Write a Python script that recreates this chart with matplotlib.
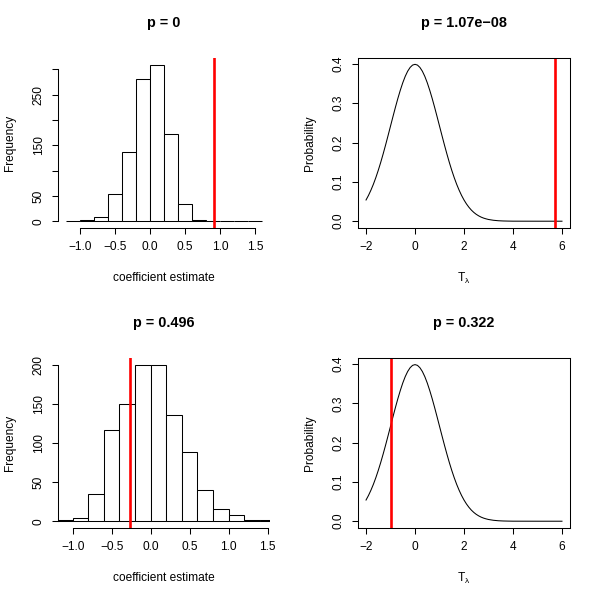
import matplotlib
matplotlib.use('Agg')
import matplotlib.pyplot as plt

plt.rcParams['font.family'] = ['Liberation Sans', 'DejaVu Sans']
plt.rcParams['mathtext.fontset'] = 'custom'
plt.rcParams['mathtext.rm'] = 'Liberation Sans'
plt.rcParams['axes.unicode_minus'] = True

# histogram bins (left edges, width 0.2) and counts
bin_edges = [-1.2, -1.0, -0.8, -0.6, -0.4, -0.2, 0.0, 0.2, 0.4, 0.6, 0.8, 1.0, 1.2, 1.4, 1.6]
counts_top = [0, 2, 9, 54, 136, 280, 309, 172, 35, 3, 0, 0, 0, 0]
counts_bottom = [2, 4, 35, 117, 150, 200, 201, 136, 89, 40, 16, 8, 1, 1]

# observed values (red lines)
obs_top_hist = 0.92
obs_bottom_hist = -0.265
obs_top_t = 5.72
obs_bottom_t = -0.99

titles = ['p = 0', 'p = 1.07e\u221208', 'p = 0.496', 'p = 0.322']

# density curve
t_x = [-2.0, -1.9, -1.8, -1.7, -1.6, -1.5, -1.4, -1.3, -1.2, -1.1,
       -1.0, -0.9, -0.8, -0.7, -0.6, -0.5, -0.4, -0.3, -0.2, -0.1,
       0.0, 0.1, 0.2, 0.3, 0.4, 0.5, 0.6, 0.7, 0.8, 0.9,
       1.0, 1.1, 1.2, 1.3, 1.4, 1.5, 1.6, 1.7, 1.8, 1.9,
       2.0, 2.1, 2.2, 2.3, 2.4, 2.5, 2.6, 2.7, 2.8, 2.9,
       3.0, 3.2, 3.4, 3.6, 3.8, 4.0, 5.0, 6.0]
t_y = [0.0540, 0.0656, 0.0790, 0.0940, 0.1109, 0.1295, 0.1497, 0.1714, 0.1942, 0.2179,
       0.2420, 0.2661, 0.2897, 0.3123, 0.3332, 0.3521, 0.3683, 0.3814, 0.3910, 0.3970,
       0.3989, 0.3970, 0.3910, 0.3814, 0.3683, 0.3521, 0.3332, 0.3123, 0.2897, 0.2661,
       0.2420, 0.2179, 0.1942, 0.1714, 0.1497, 0.1295, 0.1109, 0.0940, 0.0790, 0.0656,
       0.0540, 0.0440, 0.0355, 0.0283, 0.0224, 0.0175, 0.0136, 0.0104, 0.0079, 0.0060,
       0.0044, 0.0024, 0.0012, 0.0006, 0.0003, 0.0001, 0.0, 0.0]

FS = 8.6
TITLE_FS = 10.4
LW = 0.75
RED_LW = 1.9

fig = plt.figure(figsize=(6, 6), dpi=100)
W = 600.0


def px_axes(left, top, right, bottom):
    return fig.add_axes([left / W, 1 - bottom / W, (right - left) / W, (bottom - top) / W])


def style(ax, title, xlabel, ylabel):
    h = ax.get_position().height * W
    ax.tick_params(direction='out', length=4.3, width=LW, labelsize=FS, pad=5.3)
    ax.tick_params(axis='y', labelrotation=90)
    for lab in ax.get_yticklabels():
        lab.set_va('center')
    ax.set_title(title, fontsize=TITLE_FS, fontweight='bold', y=1 + 27.0 / h, va='center')
    ax.set_xlabel(xlabel, fontsize=FS, va='center')
    ax.xaxis.set_label_coords(0.5, -50.5 / h)
    ax.set_ylabel(ylabel, fontsize=FS, va='center')
    ax.yaxis.set_label_coords(-48.0 / 211.5, 0.5)


def hist_panel(ax, counts, obs, ylim, yticks, ylabels, xlim, title):
    widths = [bin_edges[i + 1] - bin_edges[i] for i in range(len(counts))]
    ax.bar(bin_edges[:-1], counts, width=widths, align='edge', color='white',
           edgecolor='black', linewidth=LW)
    ax.axvline(obs, color='red', linewidth=RED_LW)
    ax.set_xlim(xlim)
    ax.set_ylim(ylim)
    ax.set_xticks([-1.0, -0.5, 0.0, 0.5, 1.0, 1.5])
    ax.set_xticklabels(['\u22121.0', '\u22120.5', '0.0', '0.5', '1.0', '1.5'])
    ax.set_yticks(yticks)
    ax.set_yticklabels(ylabels)
    for s in ['top', 'right']:
        ax.spines[s].set_visible(False)
    ax.spines['left'].set_bounds(yticks[0], yticks[-1])
    ax.spines['bottom'].set_bounds(-1.0, 1.5)
    for s in ['left', 'bottom']:
        ax.spines[s].set_linewidth(LW)
    style(ax, title, 'coefficient estimate', 'Frequency')


def t_panel(ax, obs, title):
    ax.plot(t_x, t_y, color='black', linewidth=LW)
    ax.axvline(obs, color='red', linewidth=RED_LW)
    ax.set_xlim(-2.32, 6.32)
    ax.set_ylim(-0.016, 0.415)
    ax.set_xticks([-2, 0, 2, 4, 6])
    ax.set_yticks([0.0, 0.1, 0.2, 0.3, 0.4])
    ax.set_yticklabels(['0.0', '0.1', '0.2', '0.3', '0.4'])
    for s in ax.spines.values():
        s.set_linewidth(LW)
    style(ax, title, r'T$_{\mathrm{\lambda}}$', 'Probability')


ax1 = px_axes(58, 58, 269.8, 227.5)
hist_panel(ax1, counts_top, obs_top_hist, (-12.4, 322.4),
           [0, 50, 100, 150, 200, 250, 300], ['0', '50', '', '150', '', '250', ''],
           (-1.314, 1.711), titles[0])

ax2 = px_axes(358.2, 58, 569.8, 227.5)
t_panel(ax2, obs_top_t, titles[1])

ax3 = px_axes(58, 358.3, 269.5, 527.5)
hist_panel(ax3, counts_bottom, obs_bottom_hist, (-8.0, 209.0),
           [0, 50, 100, 150, 200], ['0', '50', '100', '150', '200'],
           (-1.188, 1.523), titles[2])

ax4 = px_axes(358.2, 358.3, 569.8, 527.5)
t_panel(ax4, obs_bottom_t, titles[3])

fig.savefig('out.png', dpi=100)
